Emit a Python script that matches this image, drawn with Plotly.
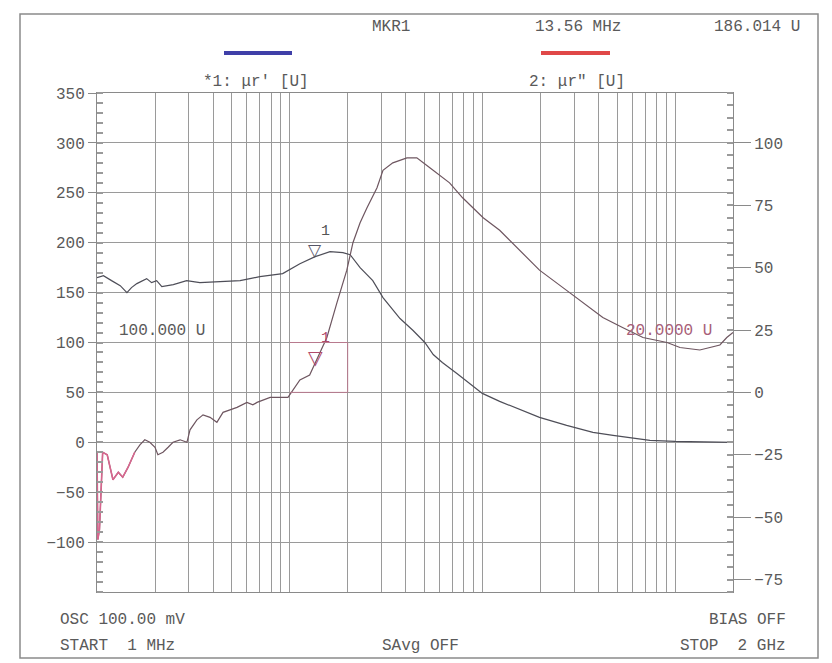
import math
import plotly.graph_objects as go

# ---------------- data ----------------
freq_a = [1.00, 1.08, 1.19, 1.32, 1.43, 1.51, 1.61, 1.71, 1.81, 1.92, 2.04, 2.17, 2.49,
          2.92, 3.42, 4.35, 5.53, 6.22, 7.0, 9.2, 11.3, 13.56, 16.2, 18.9, 20.6, 23.2,
          27.0, 30.5, 37.4, 43.7, 50.3, 55.6, 62.0, 73.8, 86.3, 100, 123, 151, 198,
          274, 375, 477, 581, 741, 1000, 1346, 2000]
mu_real = [165, 167, 162, 157, 150, 155, 159, 162, 164, 160, 162, 156, 158,
           162, 160, 161, 162, 164, 166, 169, 179, 186, 191, 190, 188, 175,
           162, 145, 124, 112, 100, 88, 80, 69, 59, 49, 41, 34, 25,
           17, 10, 7, 5, 2, 1, 0.5, 0]

freq_b = [1.00, 1.01, 1.03, 1.05, 1.07, 1.13, 1.17, 1.21, 1.29, 1.36, 1.45, 1.57, 1.67,
          1.77, 1.88, 2.00, 2.07, 2.20, 2.34, 2.48, 2.70, 2.93, 3.04, 3.30, 3.55, 3.86,
          4.19, 4.51, 4.90, 5.33, 6.00, 6.44, 6.77, 7.92, 9.8, 11.3, 12.7, 15.6, 17.6,
          19.8, 21.3, 23.2, 25.2, 28.4, 30.5, 34.3, 40.6, 45.7, 53.4, 67.6, 79.0, 101,
          123, 151, 198, 262, 333, 422, 534, 682, 909, 1061, 1346, 1710, 1857, 2000]
mu_imag = [-24, -59, -55, -35, -24, -25, -30, -35, -32, -34, -30, -24, -21,
           -19, -20, -22, -25, -24, -22, -20, -19, -20, -15, -11, -9, -10,
           -12, -8, -7, -6, -4, -5, -4, -2, -2, 5, 7, 22, 36,
           49, 60, 68, 74, 82, 89, 92, 94, 94, 90, 84, 78, 70,
           65, 58, 49, 42, 36, 30, 26, 22, 20, 18, 17, 19, 22, 24]

marker_freq = 13.56
marker_a_value = 186.014
marker_b_value = 11

left_ticks = [350, 300, 250, 200, 150, 100, 50, 0, -50, -100]
right_ticks = [100, 75, 50, 25, 0, -25, -50, -75]
grid_freqs = [m * 10 ** d for d in range(4) for m in range(1, 10) if m * 10 ** d <= 2000]

# ---------------- layout helpers ----------------
W, H = 832, 663
L, R, T, B = 97, 733, 93, 592
FONT = "Liberation Mono"
TXT = "#5a5a5a"


def px(x):
    return (x - L) / (R - L)


def py(y):
    return (B - y) / (B - T)


fig = go.Figure()

fig.add_trace(go.Scatter(x=freq_a, y=mu_real, mode="lines", yaxis="y",
                         line=dict(color="#4e4e58", width=1.2), showlegend=False))
fig.add_trace(go.Scatter(x=freq_b, y=mu_imag, mode="lines", yaxis="y2",
                         line=dict(color="#6e5660", width=1.2), showlegend=False))
# pinkish beginning of trace 2 as printed
fig.add_trace(go.Scatter(x=freq_b[:12], y=mu_imag[:12], mode="lines", yaxis="y2",
                         line=dict(color="#d8668e", width=1.6), showlegend=False))

axis_common = dict(showline=True, linecolor="#8a8a8a", linewidth=1, mirror=True,
                   zeroline=False)

fig.update_layout(
    width=W, height=H,
    margin=dict(l=L, r=W - R, t=T, b=H - B),
    paper_bgcolor="white", plot_bgcolor="white",
    font=dict(family=FONT, size=16, color=TXT),
    xaxis=dict(type="log", range=[0, math.log10(2000)], tickvals=grid_freqs,
               showticklabels=False, ticks="", showgrid=True, gridcolor="#9a9a9a",
               gridwidth=1, **axis_common),
    yaxis=dict(range=[-150, 350], tickvals=left_ticks, ticks="outside", ticklen=8,
               tickcolor="#8a8a8a", showgrid=True, gridcolor="#9a9a9a", gridwidth=1,
               tickfont=dict(family=FONT, size=16, color=TXT),
               minor=dict(dtick=10, ticks="inside", ticklen=6, tickcolor="#9a9a9a",
                          tickwidth=1.5, showgrid=False),
               **axis_common),
    yaxis2=dict(range=[-80, 120], overlaying="y", side="right", tickvals=right_ticks,
                ticks="outside", ticklen=17, tickcolor="#8a8a8a", showgrid=False,
                zeroline=False, showline=False,
                tickfont=dict(family=FONT, size=16, color=TXT),
                minor=dict(dtick=5, ticks="inside", ticklen=6, tickcolor="#9a9a9a",
                           tickwidth=1.5)),
)

# reddish reference-cell lines (as printed)
for y0, y1, x0, x1 in [(100, 100, 10, 20), (50, 50, 10, 20), (50, 100, 20, 20)]:
    fig.add_shape(type="line", xref="x", yref="y", x0=x0, x1=x1, y0=y0, y1=y1,
                  line=dict(color="#b87a8e", width=1))

# outer frame
fig.add_shape(type="rect", xref="paper", yref="paper", x0=px(20), x1=px(818),
              y0=py(658), y1=py(14), line=dict(color="#8a8a8a", width=1.5), layer="below")

# legend color bars
fig.add_shape(type="line", xref="paper", yref="paper", x0=px(224), x1=px(292),
              y0=py(53), y1=py(53), line=dict(color="#3f3fa8", width=4))
fig.add_shape(type="line", xref="paper", yref="paper", x0=px(541), x1=px(610),
              y0=py(53), y1=py(53), line=dict(color="#e04848", width=4))


def text(s, x, y, anchor="left", color=TXT, size=16):
    fig.add_annotation(text=s, xref="paper", yref="paper", x=px(x), y=py(y),
                       xanchor=anchor, yanchor="middle", showarrow=False,
                       font=dict(family=FONT, size=size, color=color))


text("MKR1", 370, 27)
text("13.56 MHz", 533, 27)
text("186.014 U", 802, 27, anchor="right")
text("*1: \u03bcr' [U]", 256, 82, anchor="center")
text("2: \u03bcr\" [U]", 577, 82, anchor="center")
text("100.000 U", 117, 331)
text("20.0000 U", 624, 331, color="#a86078")
text("OSC 100.00 mV", 58, 620)
text("START  1 MHz", 58, 646)
text("SAvg OFF", 380, 646)
text("BIAS OFF", 788, 620, anchor="right")
text("STOP  2 GHz", 788, 646, anchor="right")

# markers
lx = math.log10(marker_freq)
fig.add_annotation(text="\u25bd", x=lx, y=marker_a_value, xref="x", yref="y",
                   xanchor="center", yanchor="bottom", yshift=-5, showarrow=False,
                   font=dict(family="DejaVu Sans", size=17, color="#555566"))
fig.add_annotation(text="1", x=lx, y=marker_a_value, xref="x", yref="y",
                   xanchor="center", yanchor="bottom", xshift=10, yshift=15, showarrow=False,
                   font=dict(family=FONT, size=15, color="#555555"))
fig.add_annotation(text="\u25bd", x=lx, y=marker_b_value, xref="x", yref="y2",
                   xanchor="center", yanchor="bottom", yshift=-5, showarrow=False,
                   font=dict(family="DejaVu Sans", size=19, color="#b04a6a"))
fig.add_annotation(text="1", x=lx, y=marker_b_value, xref="x", yref="y2",
                   xanchor="center", yanchor="bottom", xshift=10, yshift=16, showarrow=False,
                   font=dict(family=FONT, size=15, color="#b04a6a"))

fig.write_html("out.html")
